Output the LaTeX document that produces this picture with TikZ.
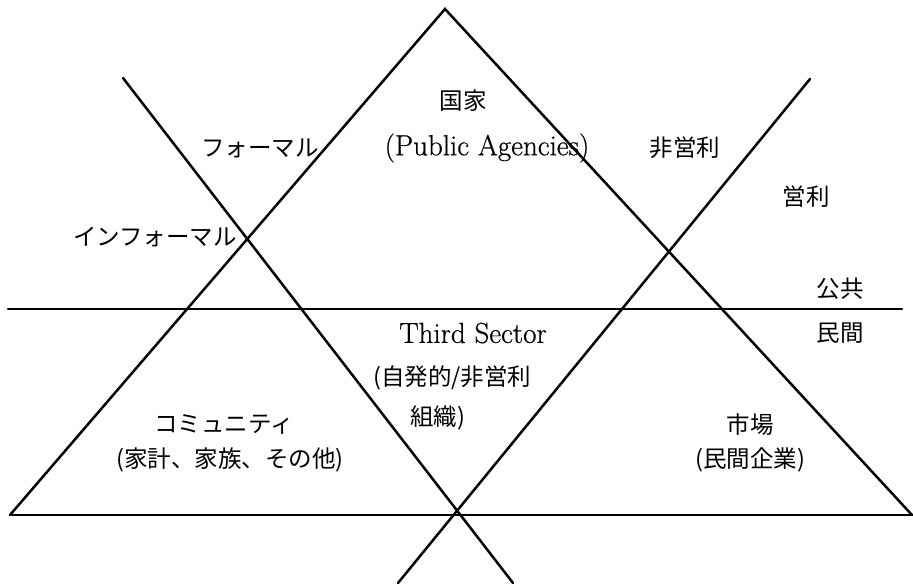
\documentclass[tikz,border=0pt]{standalone}
\usepackage{fontspec}
\newfontfamily\jp{Noto Sans CJK JP}
\newfontfamily\lat[FakeBold=0.6]{Latin Modern Roman}
\begin{document}
\begin{tikzpicture}[x=1pt,y=-1pt,
  ln/.style={line width=2.5pt,line cap=round,line join=miter},
  jt/.style={font=\jp\fontsize{23.5}{28}\selectfont,inner sep=0pt},
  lt/.style={font=\lat\fontsize{29}{34}\selectfont,inner sep=0pt}]
\useasboundingbox (0,0) rectangle (913,586);
% triangle
\coordinate (apex) at (445,9);
\coordinate (bl) at (10,515);
\coordinate (br) at (912,515);
\coordinate (brr) at (913,515);
% horizontal line
\coordinate (hl) at (8,309);
\coordinate (hr) at (902,309);
% crossing lines
\coordinate (ct1) at (123,78);
\coordinate (cb1) at (513,583);
\coordinate (ct2) at (810,79);
\coordinate (cb2) at (398,583);
\draw[ln] (bl) -- (apex) -- (br);
\draw[ln] (bl) -- (brr);
\draw[ln] (hl) -- (hr);
\draw[ln] (ct1) -- (cb1);
\draw[ln] (ct2) -- (cb2);
% labels
\node[jt] (kokka) at (463,101) {国家};
\node[lt] (pub) at (487,148) {(Public Agencies)};
\node[jt] (hiei) at (685,148) {非営利};
\node[jt] (eiri) at (806,197) {営利};
\node[jt] (formal) at (260,148) {フォーマル};
\node[jt] (informal) at (155,237) {インフォーマル};
\node[jt] (kokyo) at (840,289) {公共};
\node[jt] (minkan) at (840,333) {民間};
\node[lt] (third) at (473,333) {Third Sector};
\node[jt,anchor=west] (jihatsu) at (373,378) {(自発的/非営利};
\node[jt,anchor=west] (soshiki) at (410,418) {組織)};
\node[jt] (comm) at (224,425) {コミュニティ};
\node[jt] (kakei) at (230,460) {(家計、家族、その他)};
\node[jt] (ichiba) at (750,425) {市場};
\node[jt] (kigyo) at (750,460) {(民間企業)};
\end{tikzpicture}
\end{document}
